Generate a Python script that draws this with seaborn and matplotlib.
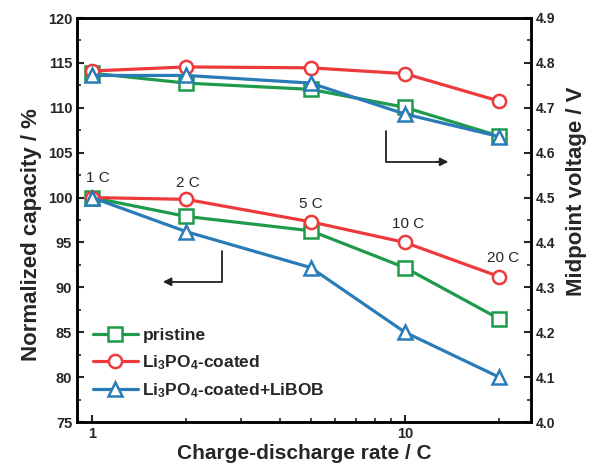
import matplotlib
matplotlib.use("Agg")
import matplotlib.pyplot as plt
import matplotlib.ticker as mticker
import numpy as np
import pandas as pd
import seaborn as sns

# ---------------- data ----------------
rates = [1, 2, 5, 10, 20]
rate_labels = ["1 C", "2 C", "5 C", "10 C", "20 C"]

cap_pristine = [100.0, 97.9, 96.3, 92.2, 86.5]
cap_coated = [100.0, 99.8, 97.3, 95.0, 91.2]
cap_libob = [100.0, 96.2, 92.2, 85.0, 80.0]

volt_pristine = [4.777, 4.755, 4.741, 4.701, 4.637]
volt_coated = [4.782, 4.791, 4.789, 4.776, 4.715]
volt_libob = [4.772, 4.772, 4.755, 4.686, 4.636]

series_names = ["pristine", r"Li$_\mathbf{3}$PO$_\mathbf{4}$-coated",
                r"Li$_\mathbf{3}$PO$_\mathbf{4}$-coated+LiBOB"]
colors = ["#1f9a4b", "#ee3a3c", "#2a7cb9"]
markers = ["s", "o", "^"]

# ---------------- style ----------------
sns.set_style("ticks")
plt.rcParams["font.family"] = ["Liberation Sans", "DejaVu Sans"]
plt.rcParams["mathtext.fontset"] = "custom"
plt.rcParams["mathtext.rm"] = "Liberation Sans"
plt.rcParams["mathtext.bf"] = "Liberation Sans:bold"
plt.rcParams["mathtext.it"] = "Liberation Sans:italic"

fig = plt.figure(figsize=(5.96, 4.66), dpi=100)
ax = fig.add_axes([77 / 596, 1 - 422 / 466, 454 / 596, 404 / 466])
ax2 = ax.twinx()
ax.set_xscale("log")
ax2.set_xscale("log")

caps = [cap_pristine, cap_coated, cap_libob]
volts = [volt_pristine, volt_coated, volt_libob]

for name, c, m, cap, volt in zip(series_names, colors, markers, caps, volts):
    df = pd.DataFrame({"rate": rates, "cap": cap, "volt": volt})
    ms = 10.5 if m == "^" else 9.5
    sns.lineplot(data=df, x="rate", y="cap", ax=ax, color=c, lw=2.3,
                 marker=m, markersize=ms, markerfacecolor="white",
                 markeredgecolor=c, markeredgewidth=1.8, label=name)
    sns.lineplot(data=df, x="rate", y="volt", ax=ax2, color=c, lw=2.3,
                 marker=m, markersize=ms, markerfacecolor="white",
                 markeredgecolor=c, markeredgewidth=1.8)

ax.set_xlim(0.895, 25.3)
ax.set_ylim(75, 120)
ax2.set_ylim(4.0, 4.9)

ax.yaxis.set_major_locator(mticker.MultipleLocator(5))
ax.yaxis.set_minor_locator(mticker.MultipleLocator(2.5))
ax2.yaxis.set_major_locator(mticker.MultipleLocator(0.1))
ax2.yaxis.set_minor_locator(mticker.MultipleLocator(0.05))
ax2.yaxis.set_major_formatter(mticker.FormatStrFormatter("%.1f"))
ax.xaxis.set_major_locator(mticker.FixedLocator([1, 10]))
ax.xaxis.set_major_formatter(mticker.FixedFormatter(["1", "10"]))
ax.xaxis.set_minor_locator(mticker.LogLocator(base=10, subs=np.arange(2, 10), numticks=10))
ax.xaxis.set_minor_formatter(mticker.NullFormatter())

for a in (ax, ax2):
    a.tick_params(which="major", direction="in", length=5, width=1.5)
    a.tick_params(which="minor", direction="in", length=3, width=1.2)
    for s in a.spines.values():
        s.set_linewidth(1.8)
        s.set_color("black")
ax.tick_params(axis="both", labelsize=10.5)
ax2.tick_params(axis="y", labelsize=10)
for lab in ax.get_xticklabels() + ax.get_yticklabels() + ax2.get_yticklabels():
    lab.set_fontweight("bold")

ax.set_xlabel("Charge-discharge rate / C", fontsize=15, fontweight="bold", labelpad=2)
ax.set_ylabel("Normalized capacity / %", fontsize=16, fontweight="bold", labelpad=4)
ax2.set_ylabel("Midpoint voltage / V", fontsize=16, fontweight="bold", labelpad=8)
ax.yaxis.label.set_y(0.465)
ax2.yaxis.label.set_y(0.57)

# rate annotations above the coated curve
offsets = [(4, 9), (1, 7), (0, 8), (2, 8), (3, 8)]
for r, lbl, v, off in zip(rates, rate_labels, cap_coated, offsets):
    ax.annotate(lbl, xy=(r, v), xytext=off, textcoords="offset points",
                ha="center", va="bottom", fontsize=11)

# axis-pointing arrows
ax.plot([0.319, 0.319, 0.20], [0.424, 0.347, 0.347], transform=ax.transAxes,
        color="#222222", lw=1.3)
ax.annotate("", xy=(0.189, 0.347), xytext=(0.21, 0.347), xycoords="axes fraction",
            arrowprops=dict(arrowstyle="-|>", color="#222222", lw=1.3,
                            mutation_scale=12, shrinkA=0, shrinkB=0))
ax.plot([0.680, 0.680, 0.80], [0.721, 0.644, 0.644], transform=ax.transAxes,
        color="#222222", lw=1.3)
ax.annotate("", xy=(0.818, 0.644), xytext=(0.79, 0.644), xycoords="axes fraction",
            arrowprops=dict(arrowstyle="-|>", color="#222222", lw=1.3,
                            mutation_scale=12, shrinkA=0, shrinkB=0))

leg = ax.legend(loc="upper left", bbox_to_anchor=(0.035, 0.232), frameon=False,
                handlelength=2.6, handletextpad=0.25, labelspacing=0.55,
                borderpad=0, borderaxespad=0,
                prop=dict(family=["Liberation Sans", "DejaVu Sans"], weight="bold", size=12.5))

fig.savefig("out.png", dpi=100)
